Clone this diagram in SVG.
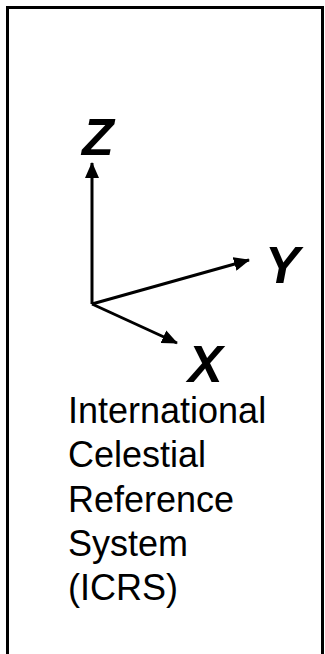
<svg xmlns="http://www.w3.org/2000/svg" width="325" height="654" viewBox="0 0 325 654">
<style>
.axis{stroke:#000;stroke-width:3;fill:none}
.lab{font-family:"Liberation Sans",Arial,sans-serif;font-weight:bold;font-style:italic;font-size:52px;fill:#000}
.txt{font-family:"Liberation Sans",Arial,sans-serif;font-size:36px;fill:#000}
</style>
<defs>
<marker id="ah" markerUnits="userSpaceOnUse" markerWidth="16" markerHeight="14" refX="15" refY="7" orient="auto">
<path d="M0,0 L16,7 L0,14 z" fill="#000"/>
</marker>
</defs>
<rect x="7.5" y="7.5" width="315" height="660" fill="#fff" stroke="#000" stroke-width="3"/>
<g id="connectors">
<line class="axis" x1="92" y1="304" x2="92" y2="163" marker-end="url(#ah)"/>
<line class="axis" x1="92" y1="304" x2="249" y2="260" marker-end="url(#ah)"/>
<line class="axis" x1="92" y1="304" x2="177" y2="343" marker-end="url(#ah)"/>
</g>
<g id="Z"><text class="lab" x="82" y="155">Z</text></g>
<g id="Y"><text class="lab" x="265" y="283">Y</text></g>
<g id="X"><text class="lab" x="188" y="382">X</text></g>
<g id="label">
<text class="txt" x="68" y="423">International</text>
<text class="txt" x="68" y="467">Celestial</text>
<text class="txt" x="68" y="512">Reference</text>
<text class="txt" x="68" y="556">System</text>
<text class="txt" x="68" y="600">(ICRS)</text>
</g>
</svg>
